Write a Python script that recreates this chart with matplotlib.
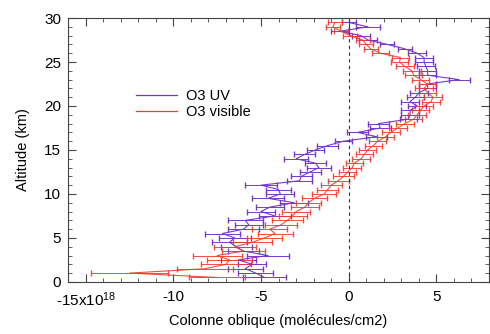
import matplotlib
matplotlib.use("Agg")
import matplotlib.pyplot as plt
from matplotlib.ticker import MultipleLocator
from matplotlib.lines import Line2D

plt.rcParams['font.family'] = ['Liberation Sans', 'DejaVu Sans']
plt.rcParams['mathtext.default'] = 'regular'

# altitudes (km)
alt = [0.5, 1.0, 1.5, 2.0, 2.5, 3.0, 3.5, 4.0, 4.5, 5.0,
       5.5, 6.0, 6.5, 7.0, 7.5, 8.0, 8.5, 9.0, 9.5, 10.0,
       10.5, 11.0, 11.5, 12.0, 12.5, 13.0, 13.5, 14.0, 14.5, 15.0,
       15.5, 16.0, 16.5, 17.0, 17.5, 18.0, 18.5, 19.0, 19.5, 20.0,
       20.5, 21.0, 21.5, 22.0, 22.5, 23.0, 23.5, 24.0, 24.5, 25.0,
       25.5, 26.0, 26.5, 27.0, 27.5, 28.0, 28.5, 29.0, 29.5]

# slant columns (x 1e18 molecules/cm2)
uv = [-4.8, -5.3, -5.9, -5.5, -6.3, -4.6, -6.0, -6.4, -6.8, -6.5,
      -7.2, -6.0, -5.7, -5.9, -4.2, -5.0, -4.5, -3.1, -4.6, -3.9,
      -4.0, -5.0, -2.8, -2.7, -2.2, -1.7, -1.9, -3.0, -2.5, -1.9,
      -1.2, -0.3, 1.6, 0.5, 1.8, 1.7, 3.4, 3.5, 3.5, 3.9,
      3.5, 3.8, 4.0, 4.5, 4.5, 6.3, 4.5, 4.5, 4.4, 4.3,
      4.3, 3.9, 3.2, 2.2, 1.1, 0.7, -0.5, 1.1, 0.0]
uv_err = [1.2, 1.0, 1.0, 0.8, 1.0, 1.2, 0.9, 0.9, 1.0, 0.9,
          1.0, 0.9, 0.8, 1.0, 0.9, 0.8, 0.8, 0.8, 0.9, 0.8,
          0.7, 0.9, 0.7, 0.6, 0.6, 0.7, 0.6, 0.7, 0.6, 0.5,
          0.6, 0.5, 0.6, 0.6, 0.6, 0.6, 0.5, 0.5, 0.5, 0.5,
          0.5, 0.5, 0.5, 0.5, 0.5, 0.6, 0.5, 0.5, 0.5, 0.5,
          0.5, 0.5, 0.4, 0.4, 0.5, 0.5, 0.5, 0.7, 0.4]

vis = [-7.5, -12.5, -8.2, -7.0, -6.8, -7.5, -6.0, -6.5, -5.5, -4.8,
       -4.2, -4.5, -3.85, -3.5, -3.2, -3.0, -2.5, -2.3, -1.95, -1.4,
       -1.2, -1.0, -0.6, -0.3, -0.06, 0.2, 0.32, 0.7, 0.9, 1.08,
       1.4, 1.65, 2.1, 2.4, 2.8, 3.2, 3.7, 3.9, 4.1, 4.3,
       4.7, 4.8, 4.5, 4.3, 4.5, 4.1, 3.7, 3.6, 3.2, 2.9,
       2.95, 1.8, 1.25, 1.0, 0.8, 0.1, -0.45, -0.9, -0.8]
vis_err = [1.6, 2.2, 1.6, 1.4, 1.3, 1.4, 1.2, 1.2, 1.1, 1.0,
           1.0, 1.0, 0.9, 0.9, 0.8, 0.8, 0.8, 0.7, 0.7, 0.7,
           0.6, 0.6, 0.6, 0.6, 0.5, 0.5, 0.5, 0.5, 0.5, 0.5,
           0.5, 0.5, 0.5, 0.5, 0.5, 0.5, 0.5, 0.5, 0.5, 0.5,
           0.5, 0.5, 0.5, 0.5, 0.5, 0.5, 0.5, 0.5, 0.5, 0.5,
           0.5, 0.5, 0.4, 0.4, 0.4, 0.4, 0.4, 0.4, 0.4]

xticks = [-15, -10, -5, 0, 5]
xticklabels = ['-15x10$^{18}$', '-10', '-5', '0', '5']

purple = '#7638CC'
red = '#F2392C'

fig = plt.figure(figsize=(4.9, 3.34), dpi=100)
ax = fig.add_axes([0.139, 0.156, 0.859, 0.790])

ax.errorbar(uv, alt, xerr=uv_err, color=purple, lw=0.8, elinewidth=0.7,
            capsize=2)
ax.errorbar(vis, alt, xerr=vis_err, color=red, lw=0.8, elinewidth=0.7,
            capsize=2, alpha=0.9)
ax.axvline(0, color='#333333', lw=0.8, ls=(0, (3, 3)))

ax.set_xlim(-16, 8)
ax.set_ylim(0, 30)
ax.set_xticks(xticks)
ax.set_xticklabels(xticklabels)
ax.xaxis.set_minor_locator(MultipleLocator(1))
ax.yaxis.set_major_locator(MultipleLocator(5))
ax.yaxis.set_minor_locator(MultipleLocator(1))
ax.tick_params(which='both', direction='in', top=True, right=True,
               colors='#444444', labelcolor='black', labelsize=11)
ax.tick_params(which='major', length=6, width=0.8)
ax.tick_params(which='minor', length=3, width=0.6)
ax.tick_params(axis='x', which='major', pad=6)
ax.tick_params(axis='y', which='major', pad=5)
for s in ax.spines.values():
    s.set_color('#444444')
    s.set_linewidth(0.8)

ax.set_xlabel('Colonne oblique (molécules/cm2)', fontsize=10.5, labelpad=4)
ax.set_ylabel('Altitude (km)', fontsize=10.5, labelpad=10)

h = [Line2D([], [], color=purple, lw=0.9), Line2D([], [], color=red, lw=0.9)]
ax.legend(h, ['O3 UV', 'O3 visible'], loc='upper left',
          bbox_to_anchor=(0.13, 0.78), frameon=False, fontsize=10.5,
          handlelength=2.8, handletextpad=0.6, labelspacing=0.15)

fig.savefig('out.png', dpi=100)
